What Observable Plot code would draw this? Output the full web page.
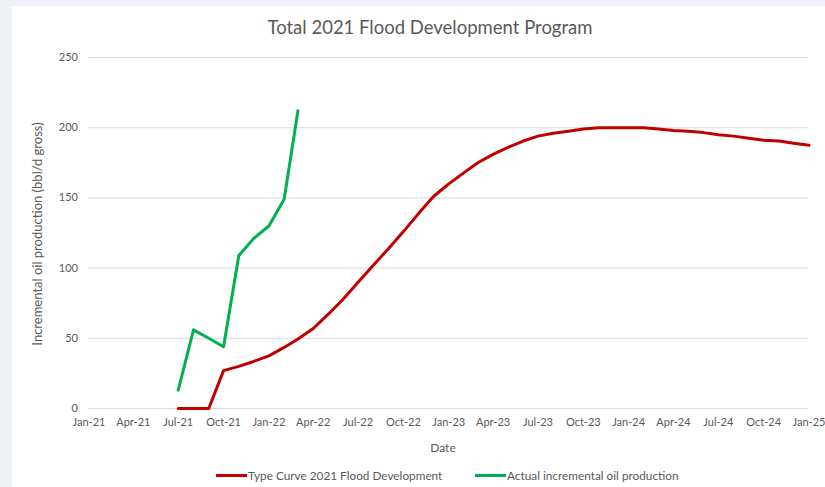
<!DOCTYPE html>
<html><head><meta charset="utf-8">
<script src="https://cdn.jsdelivr.net/npm/d3@7"></script>
<script src="https://cdn.jsdelivr.net/npm/@observablehq/plot@0.6"></script>
<style>
body{margin:0;background:#edf1f5;width:825px;height:487px;overflow:hidden;font-family:Lato,"Open Sans",sans-serif;position:relative;}
#card{position:absolute;left:12px;top:6px;width:830px;height:490px;background:#fff;}
#title{position:absolute;left:0;top:16px;width:860px;text-align:center;font-size:18.5px;color:#595959;}
#chart{position:absolute;left:0;top:40px;}
#xlabel{position:absolute;left:343px;width:200px;text-align:center;top:440px;font-size:12px;color:#595959;}
#ylabel{position:absolute;left:37px;top:234px;transform:translate(-50%,-50%) rotate(-90deg);white-space:nowrap;font-size:13px;color:#595959;}
.leg{position:absolute;top:468px;font-size:11.8px;color:#595959;white-space:nowrap;display:flex;align-items:center;}
.sw{display:inline-block;width:31px;height:3px;margin-right:1px;}
</style></head>
<body>
<div id="card"></div>
<div id="title">Total 2021 Flood Development Program</div>
<div id="chart"></div>
<div id="xlabel">Date</div>
<div id="ylabel">Incremental oil production (bbl/d gross)</div>
<div class="leg" style="left:216px"><span class="sw" style="background:#c00000"></span>Type Curve 2021 Flood Development</div>
<div class="leg" style="left:475px"><span class="sw" style="background:#00b050"></span>Actual incremental oil production</div>
<script>
const typeCurveDates = ["2021-07","2021-08","2021-09","2021-10","2021-11","2021-12",
 "2022-01","2022-02","2022-03","2022-04","2022-05","2022-06","2022-07","2022-08","2022-09","2022-10","2022-11","2022-12",
 "2023-01","2023-02","2023-03","2023-04","2023-05","2023-06","2023-07","2023-08","2023-09","2023-10","2023-11","2023-12",
 "2024-01","2024-02","2024-03","2024-04","2024-05","2024-06","2024-07","2024-08","2024-09","2024-10","2024-11","2024-12",
 "2025-01"];
const typeCurveValues = [0,0,0,27,30,33.5,
 37.5,43.5,49.5,57,67,78,90,102,114,126,139,151,
 160,168,175,181,186,190.5,194,196,197.5,199,200,200,
 200,200,199,198,197.5,196.5,195,194,192.5,191,190.5,189,
 187.5];
const actualDates = ["2021-07","2021-08","2021-09","2021-10","2021-11","2021-12","2022-01","2022-02","2022-03"];
const actualValues = [13,56,50,44,109,121,130,149,212];
const xTickDates = ["2021-01","2021-04","2021-07","2021-10","2022-01","2022-04","2022-07","2022-10",
 "2023-01","2023-04","2023-07","2023-10","2024-01","2024-04","2024-07","2024-10","2025-01"];
const yTicks = [0,50,100,150,200,250];

const parse = s => new Date(s + "-01T00:00:00Z");
const typeData = typeCurveDates.map((d,i)=>({date:parse(d), value:typeCurveValues[i]}));
const actData = actualDates.map((d,i)=>({date:parse(d), value:actualValues[i]}));

const chart = Plot.plot({
  width:825, height:420,
  marginLeft:88.5, marginRight:16.5, marginTop:17, marginBottom:52,
  style:{fontFamily:"Lato, 'Open Sans', sans-serif", fontSize:"11px", color:"#595959", background:"transparent"},
  x:{type:"utc", domain:[parse("2021-01"), parse("2025-01")]},
  y:{domain:[0,250]},
  marks:[
    Plot.gridY(yTicks, {stroke:"#d9d9d9", strokeOpacity:1}),
    Plot.axisY(yTicks, {tickSize:0, tickPadding:11, label:null}),
    Plot.axisX(xTickDates.map(parse), {tickSize:0, tickPadding:10, tickFormat:d3.utcFormat("%b-%y"), label:null}),
    Plot.lineY(typeData, {x:"date", y:"value", stroke:"#c00000", strokeWidth:3}),
    Plot.lineY(actData, {x:"date", y:"value", stroke:"#00b050", strokeWidth:3})
  ]
});
document.getElementById("chart").appendChild(chart);
</script>
</body></html>
